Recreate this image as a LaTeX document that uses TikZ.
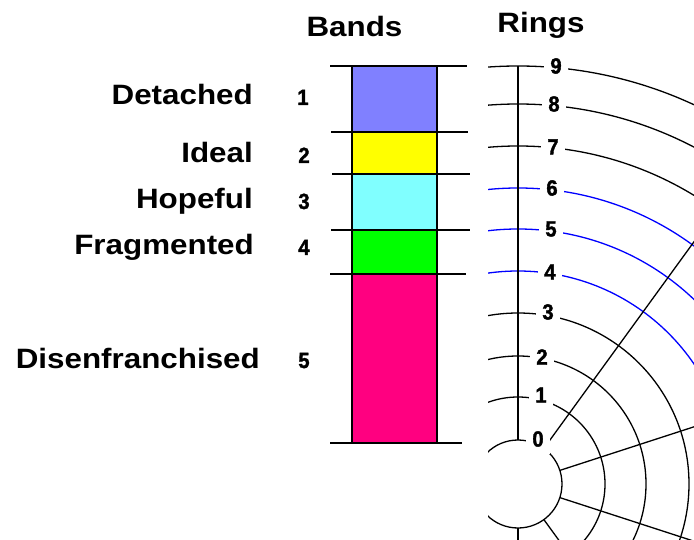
\documentclass[tikz,border=0pt]{standalone}
\usepackage{fontspec}
\newfontfamily\lblfont[FakeStretch=1.12]{Liberation Sans}
\newfontfamily\numfont[FakeBold=1.6,FakeStretch=0.92]{Liberation Sans}
\usetikzlibrary{calc}
\definecolor{bandA}{RGB}{128,128,255}
\definecolor{bandB}{RGB}{255,255,0}
\definecolor{bandC}{RGB}{128,255,255}
\definecolor{bandD}{RGB}{0,255,0}
\definecolor{bandE}{RGB}{255,0,128}
\begin{document}
\begin{tikzpicture}[x=1pt,y=-1pt,
  lbl/.style={font=\lblfont\bfseries\fontsize{28}{30}\selectfont, inner sep=0pt},
  num/.style={font=\numfont\bfseries\fontsize{22}{24}\selectfont, inner sep=0pt},
  ringlbl/.style={num, fill=white, minimum width=24pt, minimum height=30pt},
  ring/.style={line width=1.3pt},
  bluering/.style={ring, draw=blue},
  bandbox/.style={draw=black, line width=1.8pt},
  sepline/.style={line width=1.5pt}]
\useasboundingbox (0,0) rectangle (694,540);

% titles
\node[lbl, anchor=base] (tBands) at (354.5,37) {Bands};
\node[lbl, anchor=base] (tRings) at (541,33) {Rings};

% band labels
\node[lbl, anchor=base east] (l1) at (253,105) {Detached};
\node[lbl, anchor=base east] (l2) at (253,163) {Ideal};
\node[lbl, anchor=base east] (l3) at (253,209) {Hopeful};
\node[lbl, anchor=base east] (l4) at (254,255) {Fragmented};
\node[lbl, anchor=base east] (l5) at (260,368) {Disenfranchised};
\node[num, anchor=base] (n1) at (303,105) {1};
\node[num, anchor=base] (n2) at (304,163) {2};
\node[num, anchor=base] (n3) at (304,209) {3};
\node[num, anchor=base] (n4) at (304,255) {4};
\node[num, anchor=base] (n5) at (304,368) {5};

% band bar
\fill[bandA] (352,66) rectangle (437,132);
\fill[bandB] (352,132) rectangle (437,174);
\fill[bandC] (352,174) rectangle (437,230);
\fill[bandD] (352,230) rectangle (437,274);
\fill[bandE] (352,274) rectangle (437,443);
\draw[bandbox] (352,66) rectangle (437,443);
\draw[sepline] (330,66) -- (467,66);
\draw[sepline] (331,132) -- (468,132);
\draw[sepline] (332,174) -- (470,174);
\draw[sepline] (331,230) -- (470,230);
\draw[sepline] (330,274) -- (466,274);
\draw[sepline] (330,443) -- (462,443);

% rings
\coordinate (C) at (518,484);
\begin{scope}
\clip (488,0) rectangle (694,540);
\foreach \r in {44,87,128,171,338,380,418}
  \draw[ring] (C) circle[radius=\r pt];
\foreach \r in {213,255,296}
  \draw[bluering] (C) circle[radius=\r pt];
\foreach \a in {54,18,-18,-54,-90}
  \draw[ring] ($(C)+(\a:44pt)$) -- ($(C)+(\a:700pt)$);
\draw[ring] ($(C)+(90:44pt)$) -- ($(C)+(90:418pt)$);
\end{scope}

% ring labels
\node[ringlbl] (r9) at (556,66) {9};
\node[ringlbl] (r8) at (554,104) {8};
\node[ringlbl] (r7) at (553,147) {7};
\node[ringlbl] (r6) at (552,188) {6};
\node[ringlbl] (r5) at (551,229) {5};
\node[ringlbl] (r4) at (550,272) {4};
\node[ringlbl] (r3) at (548,312) {3};
\node[ringlbl] (r2) at (542,357) {2};
\node[ringlbl] (r1) at (541,395) {1};
\node[ringlbl] (r0) at (538,439) {0};
\end{tikzpicture}
\end{document}
